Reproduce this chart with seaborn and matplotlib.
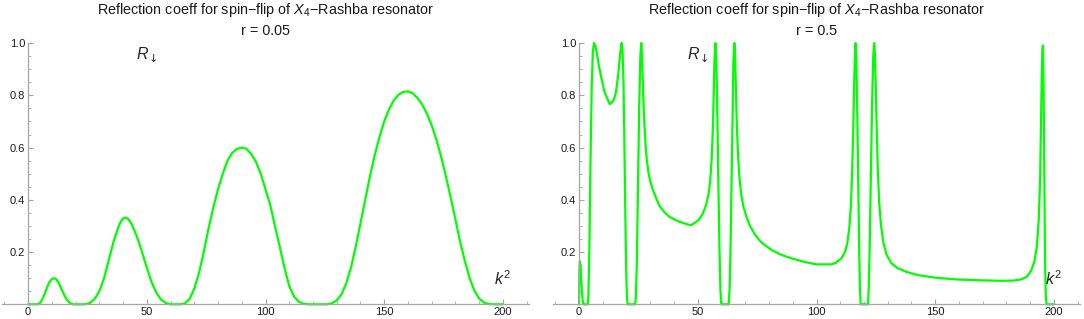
import matplotlib.pyplot as plt
import seaborn as sns
from matplotlib.ticker import MultipleLocator

# r = 0.05 panel
k2_low = [0, 2, 4, 5, 6, 7, 8, 9, 10, 11, 12, 13, 14, 15, 16, 17, 18, 19,
          22, 24, 26, 28, 30, 32, 34, 36, 38, 39, 40, 41, 42, 43, 44, 46,
          48, 50, 52, 54, 56, 58, 60, 64, 66, 68, 70, 72, 74, 76, 78, 80,
          82, 84, 86, 88, 90, 92, 94, 96, 98, 100, 102, 104, 106, 108, 110,
          112, 114, 116, 118, 122, 126, 128, 130, 132, 134, 136, 138, 140,
          142, 144, 146, 148, 150, 152, 154, 156, 158, 160, 162, 164, 166,
          168, 170, 172, 174, 176, 178, 180, 182, 184, 186, 188, 190, 192,
          194, 196, 200]
refl_low = [0, 0, 0, 0.005, 0.02, 0.04, 0.065, 0.085, 0.097, 0.1, 0.095,
            0.08, 0.06, 0.04, 0.022, 0.01, 0.003, 0,
            0, 0, 0.005, 0.02, 0.05, 0.1, 0.17, 0.24, 0.295, 0.316, 0.329,
            0.332, 0.328, 0.317, 0.3, 0.255,
            0.2, 0.14, 0.085, 0.045, 0.018, 0.005, 0, 0, 0.003, 0.02, 0.06,
            0.12, 0.2, 0.29, 0.37, 0.44,
            0.5, 0.55, 0.58, 0.595, 0.6, 0.595, 0.575, 0.545, 0.5, 0.44,
            0.38, 0.3, 0.22, 0.14, 0.07,
            0.03, 0.01, 0.002, 0, 0, 0, 0.004, 0.015, 0.038, 0.08, 0.14,
            0.22, 0.31,
            0.4, 0.49, 0.57, 0.64, 0.7, 0.745, 0.78, 0.802, 0.813, 0.815,
            0.808, 0.79, 0.765,
            0.73, 0.685, 0.63, 0.565, 0.49, 0.41, 0.325, 0.24, 0.165, 0.1,
            0.052, 0.022, 0.007,
            0.001, 0, 0]

# r = 0.5 panel
k2_high = [0, 0.1, 0.3, 0.6, 0.9, 1.2, 1.5, 1.8, 3.6, 3.9, 4.3, 4.8, 5.3,
           5.8, 6.3, 6.8, 7.5, 8.5, 10.6, 12.9, 14.5, 15.5, 16.5, 17.3,
           17.9, 18.3, 18.7, 19.1, 19.5, 19.9, 20.2, 20.5,
           23.6, 23.9, 24.3, 24.8, 25.3, 25.8, 26.2, 26.5, 27.0, 27.5, 28.0,
           28.5, 29.2, 30, 31, 32.5, 34, 36, 38, 42, 46, 47.5, 50.4, 52,
           53.5, 54.5, 55.2, 55.8, 56.3, 56.7, 57.0, 57.4, 57.8, 58.2, 58.6,
           59.1, 59.5, 59.9,
           63.0, 63.4, 63.8, 64.3, 64.7, 65.0, 65.4, 65.7, 66.0, 66.4, 66.9,
           67.5, 68.3, 69.2, 70.5, 72, 74.2, 77, 81.1, 85, 89.5, 95, 100,
           106.3, 108, 110.5, 112, 113, 113.8, 114.5, 115.0, 115.5, 115.9,
           116.2, 116.5, 116.8, 117.2, 117.6, 118.0, 118.3, 118.6,
           121.7, 122.0, 122.4, 122.9, 123.4, 123.9, 124.3, 124.6, 124.9,
           125.3, 125.8, 126.4, 127.2, 128.2, 129.5, 131.5, 134.2, 138,
           142.6, 150, 159.4, 169, 178, 183, 186, 188.5, 190.5, 191.8, 192.8,
           193.6, 194.2, 194.6, 194.9, 195.2, 195.4, 195.7, 196.0, 196.3,
           196.6, 196.9, 200]
refl_high = [0, 0.12, 0.165, 0.15, 0.1, 0.05, 0.015, 0, 0, 0.03, 0.2, 0.55,
             0.83, 0.97, 1.0, 0.99, 0.96, 0.905, 0.815, 0.766, 0.78, 0.81,
             0.88, 0.96,
             1.0, 0.97, 0.85, 0.6, 0.32, 0.1, 0.02, 0,
             0, 0.03, 0.15, 0.45, 0.75, 0.95, 1.0, 0.95, 0.8, 0.69, 0.61,
             0.555, 0.505, 0.47, 0.44, 0.405, 0.375, 0.352, 0.335, 0.317,
             0.305, 0.304, 0.323, 0.345,
             0.38, 0.42, 0.47, 0.55, 0.66, 0.8, 0.93, 1.0, 0.93, 0.75, 0.5,
             0.22, 0.06, 0,
             0, 0.06, 0.22, 0.5, 0.75, 0.93, 1.0, 0.95, 0.84, 0.7, 0.58,
             0.49, 0.42, 0.375, 0.335, 0.3, 0.265, 0.235, 0.208, 0.19, 0.176,
             0.162, 0.153,
             0.153, 0.158, 0.176, 0.2, 0.235, 0.29, 0.38, 0.5, 0.68, 0.86,
             0.96, 1.0, 0.93, 0.72, 0.45, 0.2, 0.06, 0,
             0, 0.06, 0.22, 0.5, 0.76, 0.95, 1.0, 0.96, 0.86,
             0.7, 0.52, 0.39, 0.3, 0.235, 0.19, 0.158, 0.138, 0.124,
             0.112, 0.102, 0.095, 0.092, 0.09, 0.091, 0.095, 0.105, 0.13,
             0.165, 0.22,
             0.32, 0.48, 0.7, 0.88, 0.98, 0.99, 0.8, 0.45, 0.15,
             0.03, 0, 0]

panels = [(k2_low, refl_low, "0.05"), (k2_high, refl_high, "0.5")]

sns.set_style("white")
plt.rcParams['font.family'] = ['Liberation Sans', 'DejaVu Sans']
plt.rcParams['mathtext.fontset'] = 'custom'
plt.rcParams['mathtext.rm'] = 'Liberation Sans'
plt.rcParams['mathtext.it'] = 'Liberation Sans:italic'

fig = plt.figure(figsize=(10.84, 3.19), dpi=100)
axes = [fig.add_axes([2/1084, 0.046, 527/1084, 0.819]),
        fig.add_axes([553/1084, 0.046, 527/1084, 0.819])]

axis_grey = '#a6a6a6'
for ax, (k2, refl, r) in zip(axes, panels):
  sns.lineplot(x=k2, y=refl, ax=ax, color='#00ff00', lw=1.6,
               estimator=None, sort=False, clip_on=False)
  ax.set_xlim(-11, 211)
  ax.set_ylim(0, 1.0)
  ax.spines['left'].set_position(('data', 0))
  ax.spines['top'].set_visible(False)
  ax.spines['right'].set_visible(False)
  for s in ['left', 'bottom']:
    ax.spines[s].set_color(axis_grey)
    ax.spines[s].set_linewidth(0.9)
  ax.set_xticks([0, 50, 100, 150, 200])
  ax.set_yticks([0.2, 0.4, 0.6, 0.8, 1.0])
  ax.set_yticklabels(['0.2', '0.4', '0.6', '0.8', '1.0'])
  ax.xaxis.set_minor_locator(MultipleLocator(10))
  ax.yaxis.set_minor_locator(MultipleLocator(0.05))
  ax.tick_params(which='both', direction='in', color=axis_grey,
                 labelsize=8, labelcolor='#1a1a1a', pad=2,
                 bottom=True, left=True)
  ax.tick_params(which='major', length=3.5, width=0.8)
  ax.tick_params(which='minor', length=2, width=0.6)
  ax.set_xlabel('')
  ax.set_ylabel('')
  ax.set_title('Reflection coeff for spin\u2212flip of $X_4$\u2212Rashba resonator\nr = ' + r,
               fontsize=10.4, pad=6, color='#1a1a1a', linespacing=1.4)
  # R with a down arrow as subscript
  ax.text(50.5, 0.955, 'R', style='italic', fontsize=11.5, ha='right', va='center')
  ax.annotate('\u2193', xy=(50.5, 0.955), xytext=(0.3, -3), textcoords='offset points',
              fontsize=8, family='DejaVu Sans', ha='left', va='center')
  ax.text(200, 0.1, r'$k^2$', fontsize=11.5, ha='center', va='center')

fig.savefig('out.png', dpi=100)
